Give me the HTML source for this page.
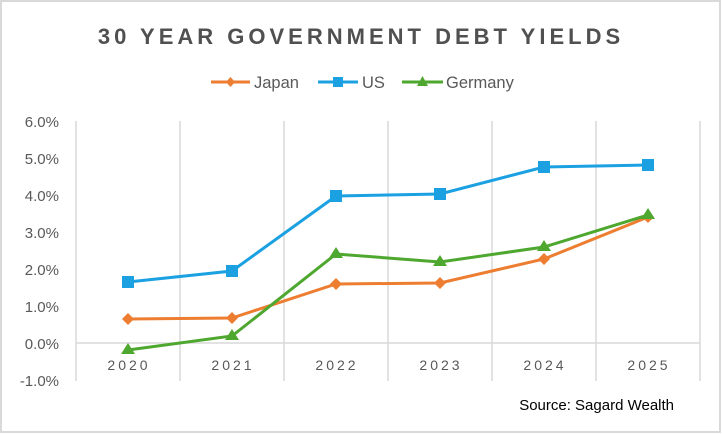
<!DOCTYPE html>
<html><head><meta charset="utf-8"><style>
body{margin:0;background:#fff;}
svg{display:block;font-family:"Liberation Sans",sans-serif;}
</style></head><body>
<svg width="722" height="434" viewBox="0 0 722 434">
<rect x="1" y="1" width="719" height="431" fill="#fff" stroke="#d9d9d9" stroke-width="2"/>
<text x="361" y="44" text-anchor="middle" font-size="22" font-weight="bold" fill="#505050" letter-spacing="4">30 YEAR GOVERNMENT  DEBT YIELDS</text>
<g font-size="16.5" fill="#595959">
<line x1="211" y1="82" x2="250" y2="82" stroke="#ED7D31" stroke-width="3"/>
<path d="M230.5 77 L235 82 L230.5 87 L226 82Z" fill="#ED7D31"/>
<text x="254" y="88">Japan</text>
<line x1="318" y1="82" x2="358" y2="82" stroke="#1BA1E2" stroke-width="3"/>
<rect x="333" y="77" width="10" height="10" fill="#1BA1E2"/>
<text x="362" y="88">US</text>
<line x1="402" y1="82" x2="443" y2="82" stroke="#4EA72E" stroke-width="3"/>
<path d="M422.5 76 L428 86 L417 86Z" fill="#4EA72E"/>
<text x="446" y="88">Germany</text>
</g>
<g stroke="#d9d9d9" stroke-width="1.5">
<line x1="76" y1="121" x2="76" y2="381"/><line x1="180" y1="121" x2="180" y2="381"/>
<line x1="284" y1="121" x2="284" y2="381"/><line x1="388" y1="121" x2="388" y2="381"/>
<line x1="492" y1="121" x2="492" y2="381"/><line x1="596" y1="121" x2="596" y2="381"/>
<line x1="700" y1="121" x2="700" y2="381"/>
<line x1="76" y1="343" x2="700" y2="343"/>
</g>
<g font-size="15" fill="#595959" text-anchor="end">
<text x="59" y="127">6.0%</text><text x="59" y="164">5.0%</text><text x="59" y="201">4.0%</text>
<text x="59" y="238">3.0%</text><text x="59" y="275">2.0%</text><text x="59" y="312">1.0%</text>
<text x="59" y="349">0.0%</text><text x="59" y="386">-1.0%</text>
</g>
<g font-size="14" fill="#595959" text-anchor="middle" letter-spacing="3">
<text x="129" y="370">2020</text><text x="233" y="370">2021</text><text x="337" y="370">2022</text>
<text x="441" y="370">2023</text><text x="545" y="370">2024</text><text x="649" y="370">2025</text>
</g>
<text x="674" y="410" text-anchor="end" font-size="15" fill="#000">Source: Sagard Wealth</text>
<polyline points="128,282 232,271 336,196 440,194 544,167 648,165" fill="none" stroke="#1BA1E2" stroke-width="3"/>
<g fill="#1BA1E2">
<rect x="122" y="276" width="12" height="12"/><rect x="226" y="265" width="12" height="12"/>
<rect x="330" y="190" width="12" height="12"/><rect x="434" y="188" width="12" height="12"/>
<rect x="538" y="161" width="12" height="12"/><rect x="642" y="159" width="12" height="12"/>
</g>
<polyline points="128,319 232,318 336,284 440,283 544,259 648,217" fill="none" stroke="#ED7D31" stroke-width="3"/>
<g fill="#ED7D31">
<path d="M128 313l6 6-6 6-6-6z"/><path d="M232 312l6 6-6 6-6-6z"/><path d="M336 278l6 6-6 6-6-6z"/>
<path d="M440 277l6 6-6 6-6-6z"/><path d="M544 253l6 6-6 6-6-6z"/><path d="M648 211l6 6-6 6-6-6z"/>
</g>
<polyline points="128,350 232,336 336,254 440,262 544,247 648,215" fill="none" stroke="#4EA72E" stroke-width="3"/>
<g fill="#4EA72E">
<path d="M128 343l7 11h-14z"/><path d="M232 329l7 11h-14z"/><path d="M336 247l7 11h-14z"/>
<path d="M440 255l7 11h-14z"/><path d="M544 240l7 11h-14z"/><path d="M648 208l7 11h-14z"/>
</g>
</svg>
</body></html>
